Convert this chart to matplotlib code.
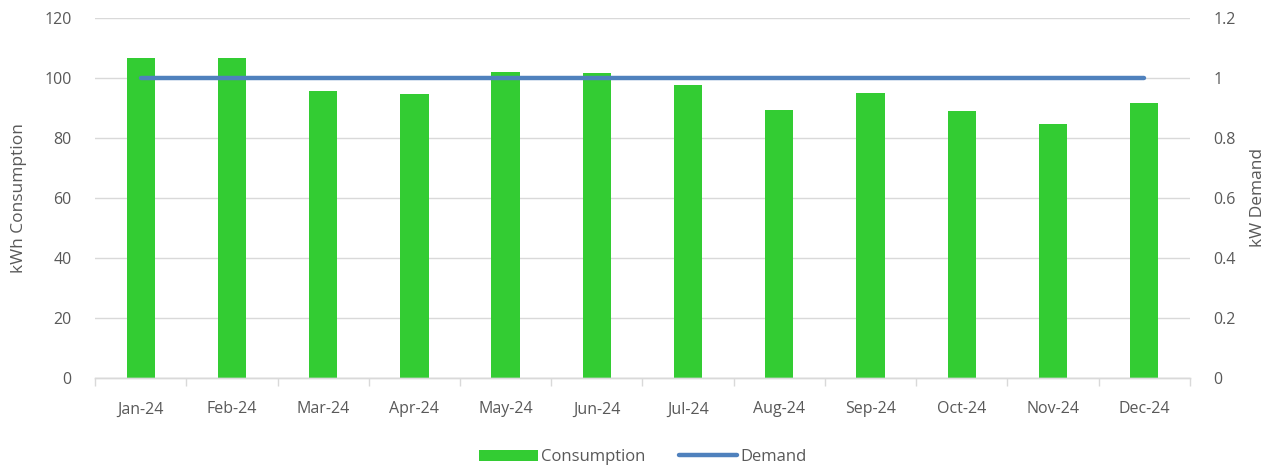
import matplotlib.pyplot as plt
import numpy as np
from matplotlib.patches import Patch
from matplotlib.lines import Line2D

plt.rcParams['font.family'] = ['Open Sans', 'DejaVu Sans']

months = ['Jan-24', 'Feb-24', 'Mar-24', 'Apr-24', 'May-24', 'Jun-24',
          'Jul-24', 'Aug-24', 'Sep-24', 'Oct-24', 'Nov-24', 'Dec-24']
consumption = [106.6, 106.6, 95.6, 94.6, 102.0, 101.5, 97.6, 89.3, 94.9, 88.9, 84.6, 91.7]
demand = [1, 1, 1, 1, 1, 1, 1, 1, 1, 1, 1, 1]

green = '#33CC33'
blue = '#4F81BD'
grid_c = '#D9D9D9'
text_c = '#595959'

fig = plt.figure(figsize=(12.86, 4.70), dpi=100)
ax = fig.add_axes([0.0739, 0.196, 0.8514, 0.766])
ax2 = ax.twinx()

x = np.arange(len(months))
ax.bar(x, consumption, width=0.31, color=green, zorder=2)
ax2.plot(x, demand, color=blue, linewidth=3.2, solid_capstyle='round', zorder=3)

ax.set_xlim(-0.5, len(months) - 0.5)
ax.set_ylim(0, 120)
ax.set_yticks(np.arange(0, 121, 20))
ax2.set_ylim(0, 1.2)
ax2.set_yticks([0, 0.2, 0.4, 0.6, 0.8, 1, 1.2])
ax2.set_yticklabels(['0', '0.2', '0.4', '0.6', '0.8', '1', '1.2'])

ax.yaxis.grid(True, color=grid_c, linewidth=1)
ax.set_axisbelow(True)

for a in (ax, ax2):
    for s in ['top', 'left', 'right']:
        a.spines[s].set_visible(False)
    a.spines['bottom'].set_color(grid_c)
    a.spines['bottom'].set_linewidth(1)

ax.set_xticks(x)
ax.set_xticklabels(months)
ax.set_xticks(np.arange(-0.5, len(months), 1), minor=True)
ax.tick_params(axis='x', which='major', length=0, pad=17, labelsize=11.5, labelcolor=text_c)
ax.tick_params(axis='x', which='minor', length=6, color=grid_c, width=1)
ax.tick_params(axis='y', length=0, pad=17, labelsize=11.5, labelcolor=text_c)
ax2.tick_params(axis='y', length=0, pad=17, labelsize=11.5, labelcolor=text_c)

ax.set_ylabel('kWh Consumption', fontsize=12.5, color=text_c, labelpad=12)
ax2.set_ylabel('kW Demand', fontsize=12.5, color=text_c, labelpad=10)

handles = [Patch(facecolor=green, edgecolor='none'),
           Line2D([0], [0], color=blue, linewidth=3.2, solid_capstyle='round')]
fig.legend(handles, ['Consumption', 'Demand'], loc='center', bbox_to_anchor=(0.5, 0.027),
           ncol=2, frameon=False, fontsize=12, labelcolor=text_c,
           handlelength=3.5, handletextpad=0.2, columnspacing=2.0)

fig.savefig('out.png', dpi=100)
